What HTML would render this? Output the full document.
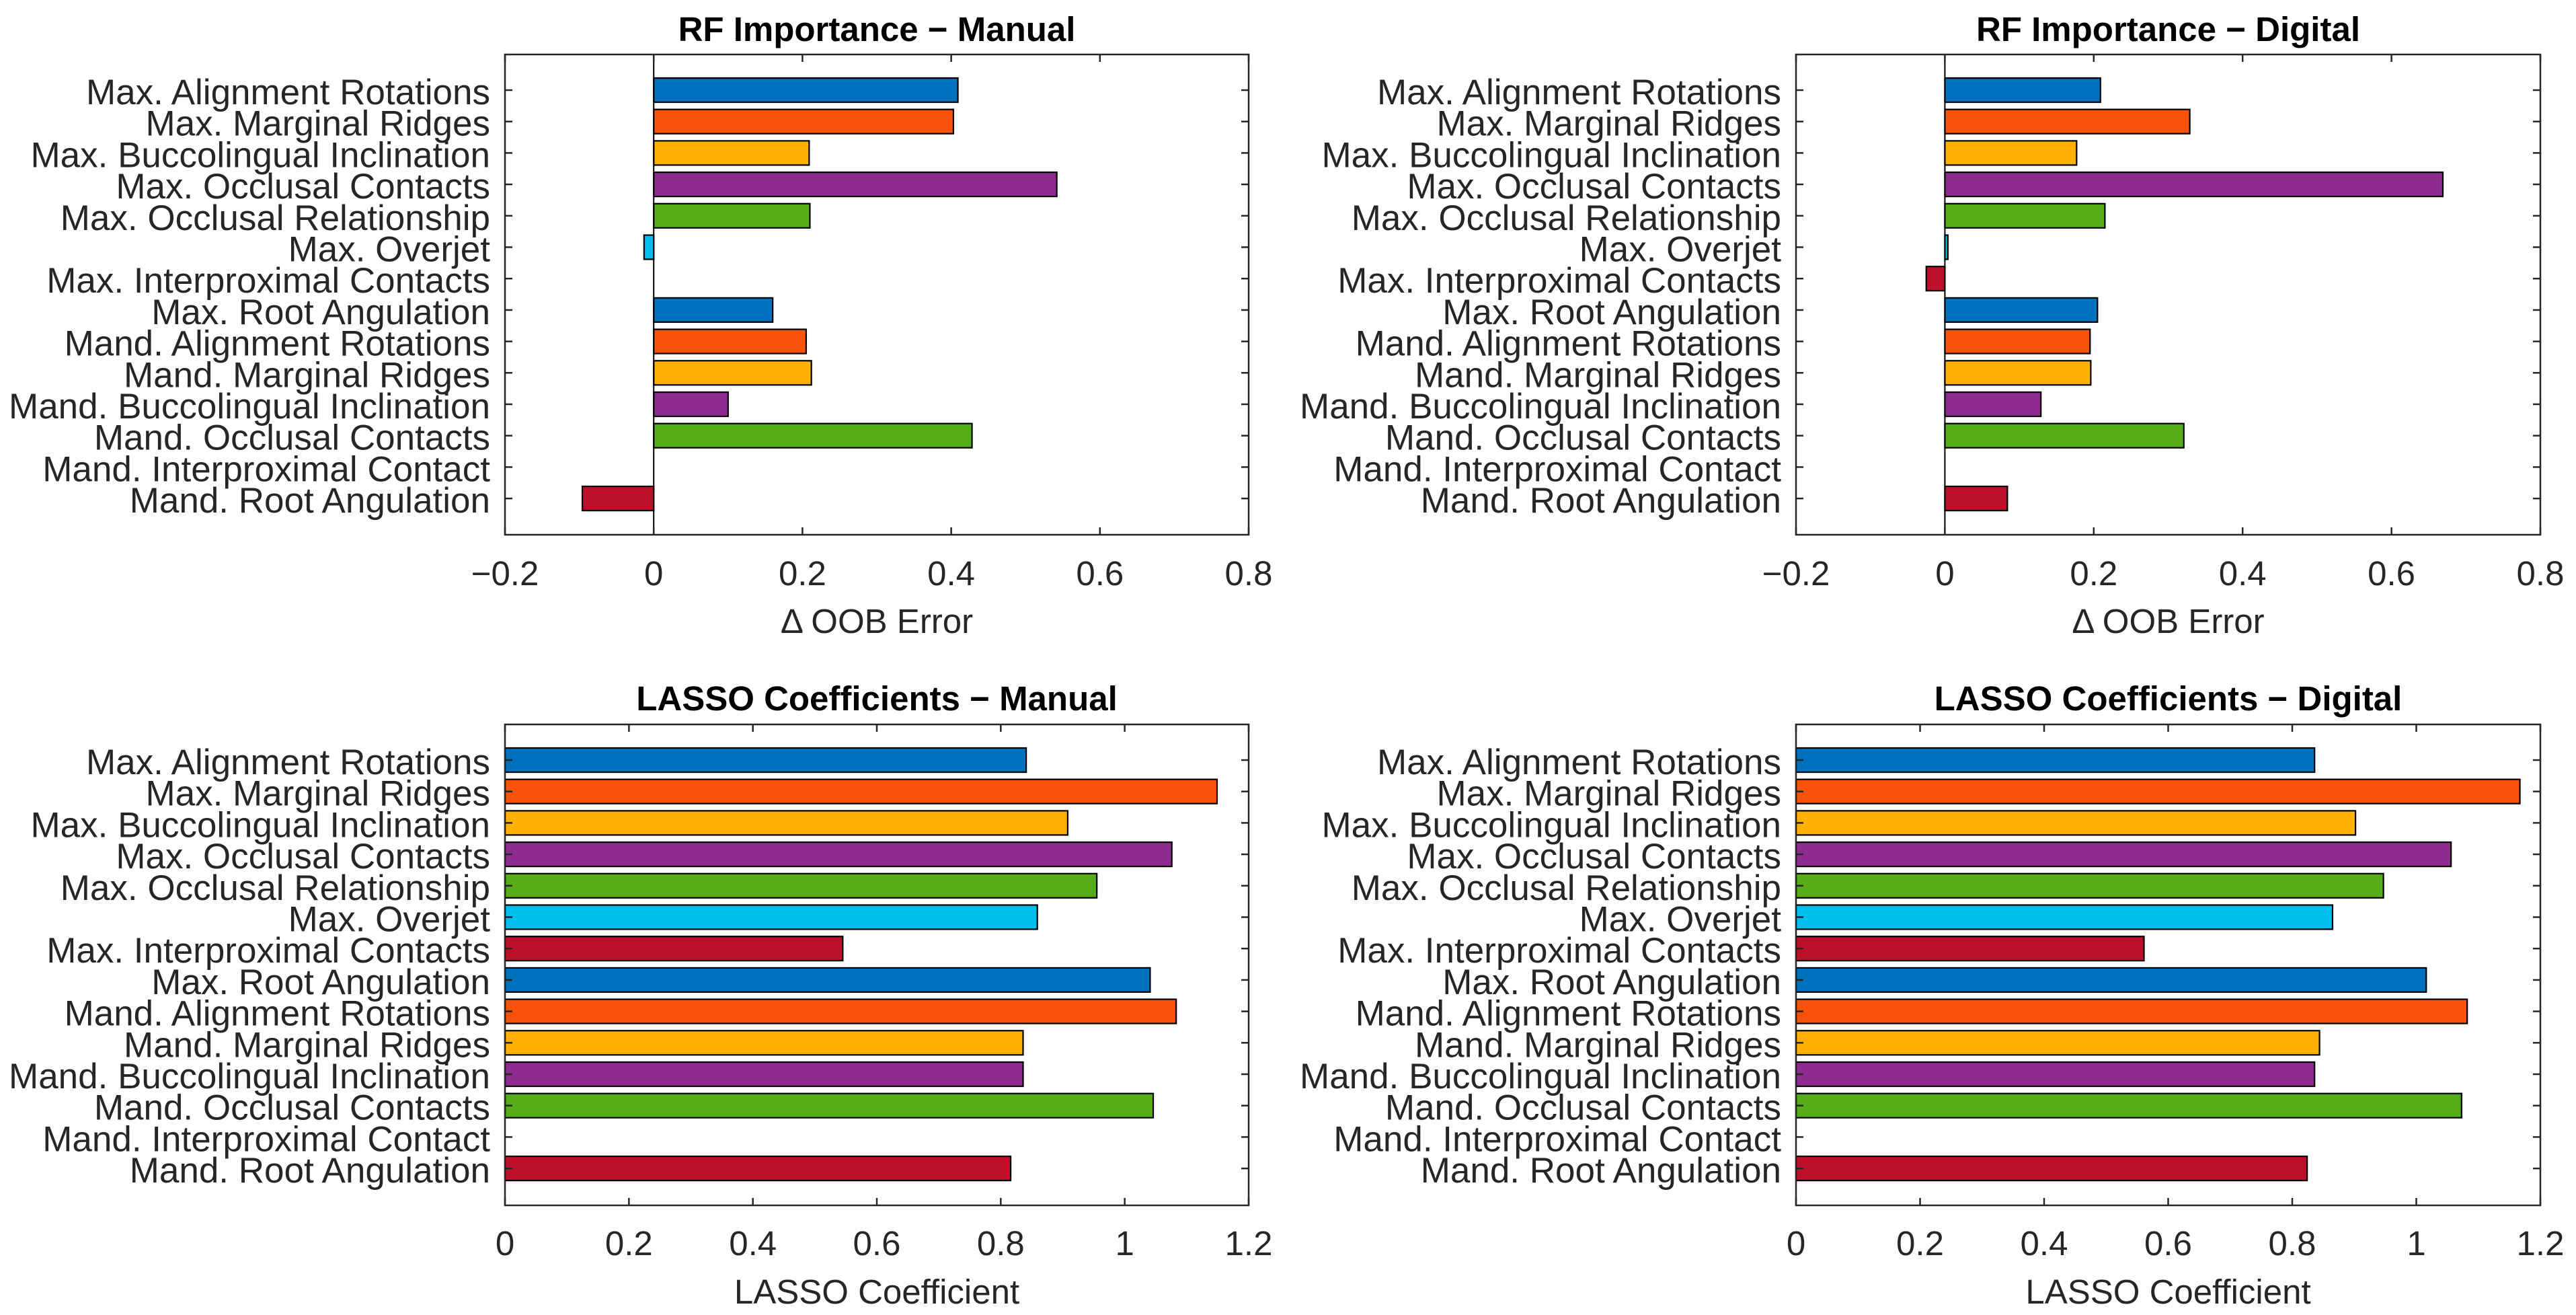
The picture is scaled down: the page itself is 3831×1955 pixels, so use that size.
<!DOCTYPE html>
<html><head><meta charset="utf-8"><style>
html,body{margin:0;padding:0;background:#fff;}
svg{display:block;font-family:"Liberation Sans",Arial,sans-serif;}
</style></head><body>
<svg id="fig" width="3831" height="1955" viewBox="0 0 3831 1955" xmlns="http://www.w3.org/2000/svg"></svg>
<script>
const categories = ["Max. Alignment Rotations","Max. Marginal Ridges","Max. Buccolingual Inclination","Max. Occlusal Contacts","Max. Occlusal Relationship","Max. Overjet","Max. Interproximal Contacts","Max. Root Angulation","Mand. Alignment Rotations","Mand. Marginal Ridges","Mand. Buccolingual Inclination","Mand. Occlusal Contacts","Mand. Interproximal Contact","Mand. Root Angulation"];
const rfManual = [0.409,0.403,0.209,0.542,0.210,-0.013,0,0.160,0.205,0.212,0.100,0.428,0,-0.096];
const rfDigital = [0.209,0.329,0.177,0.669,0.215,0.004,-0.025,0.205,0.195,0.196,0.129,0.321,0,0.084];
const lassoManual = [0.841,1.149,0.908,1.076,0.955,0.859,0.545,1.041,1.083,0.836,0.836,1.046,0,0.816];
const lassoDigital = [0.836,1.167,0.902,1.056,0.947,0.865,0.561,1.016,1.082,0.844,0.836,1.073,0,0.824];
const rfTicks = [-0.2,0,0.2,0.4,0.6,0.8];
const rfTickLabels = ["\u22120.2","0","0.2","0.4","0.6","0.8"];
const lassoTicks = [0,0.2,0.4,0.6,0.8,1,1.2];
const lassoTickLabels = ["0","0.2","0.4","0.6","0.8","1","1.2"];
const colors = ["#0072BD","#F7530A","#FFB000","#8E2B8E","#56AD17","#00BEEE","#BE0F2A","#0072BD","#F7530A","#FFB000","#8E2B8E","#56AD17","#BE0F2A","#BE0F2A"];

const NS="http://www.w3.org/2000/svg";
const svg=document.getElementById('fig');
function mk(tag,attrs,parent){const e=document.createElementNS(NS,tag);for(const k in attrs)e.setAttribute(k,attrs[k]);(parent||svg).appendChild(e);return e;}

function panel(cfg){
  const g=mk('g',{});
  
  
  const L=cfg.x0,R=cfg.x1,T=cfg.y0,B=cfg.y1;
  const xs=v=>L+(v-cfg.min)/(cfg.max-cfg.min)*(R-L);
  const ys=i=>T+53+i*46.7;
  const bh=36;
  cfg.values.forEach((v,i)=>{
    if(v===0) return;
    const a=xs(0),b=xs(v);
    const r=mk('rect',{x:Math.min(a,b),y:ys(i)-bh/2,width:Math.abs(b-a),height:bh,fill:colors[i],stroke:"#000","stroke-width":2.2},g);
    
    
  });
  if(cfg.min<0){mk('line',{x1:xs(0),x2:xs(0),y1:T,y2:B,stroke:"#000","stroke-width":2},g);}
  const box=mk('rect',{x:L,y:T,width:R-L,height:B-T,fill:"none",stroke:"#262626","stroke-width":2.5},g);
  
  
  cfg.ticks.forEach((t,i)=>{
    const x=xs(t);
    mk('line',{x1:x,x2:x,y1:B,y2:B-11,stroke:"#262626","stroke-width":2.5},g);
    mk('line',{x1:x,x2:x,y1:T,y2:T+11,stroke:"#262626","stroke-width":2.5},g);
    const tx=mk('text',{x:x,y:cfg.tickBase,"text-anchor":"middle","font-size":51,fill:"#262626"},g);
    tx.textContent=cfg.tickLabels[i];
    
    
  });
  categories.forEach((c,i)=>{
    const y=ys(i);
    mk('line',{x1:L,x2:L+11,y1:y,y2:y,stroke:"#262626","stroke-width":2.5},g);
    mk('line',{x1:R,x2:R-11,y1:y,y2:y,stroke:"#262626","stroke-width":2.5},g);
    const tx=mk('text',{x:L-22,y:y+21,"text-anchor":"end","font-size":53,fill:"#262626"},g);
    tx.textContent=c;
    
    
  });
  const ti=mk('text',{x:(L+R)/2,y:cfg.titleBase,"text-anchor":"middle","font-size":51,"font-weight":"bold",fill:"#000"},g);
  ti.textContent=cfg.title;
  
  
  const xl=mk('text',{x:(L+R)/2,y:cfg.xlabBase,"text-anchor":"middle","font-size":51,fill:"#262626"},g);
  xl.textContent=cfg.xlabel;
  
  
}

panel({name:'rf-manual-chart',x0:751,x1:1857,y0:81,y1:795,min:-0.2,max:0.8,values:rfManual,ticks:rfTicks,tickLabels:rfTickLabels,title:"RF Importance \u2212 Manual",xlabel:"\u0394 OOB Error",titleBase:61,tickBase:870,xlabBase:941});
panel({name:'rf-digital-chart',x0:2671,x1:3778,y0:81,y1:795,min:-0.2,max:0.8,values:rfDigital,ticks:rfTicks,tickLabels:rfTickLabels,title:"RF Importance \u2212 Digital",xlabel:"\u0394 OOB Error",titleBase:61,tickBase:870,xlabBase:941});
panel({name:'lasso-manual-chart',x0:751,x1:1857,y0:1077,y1:1792,min:0,max:1.2,values:lassoManual,ticks:lassoTicks,tickLabels:lassoTickLabels,title:"LASSO Coefficients \u2212 Manual",xlabel:"LASSO Coefficient",titleBase:1056,tickBase:1866,xlabBase:1938});
panel({name:'lasso-digital-chart',x0:2671,x1:3778,y0:1077,y1:1792,min:0,max:1.2,values:lassoDigital,ticks:lassoTicks,tickLabels:lassoTickLabels,title:"LASSO Coefficients \u2212 Digital",xlabel:"LASSO Coefficient",titleBase:1056,tickBase:1866,xlabBase:1938});
</script>
</body></html>
